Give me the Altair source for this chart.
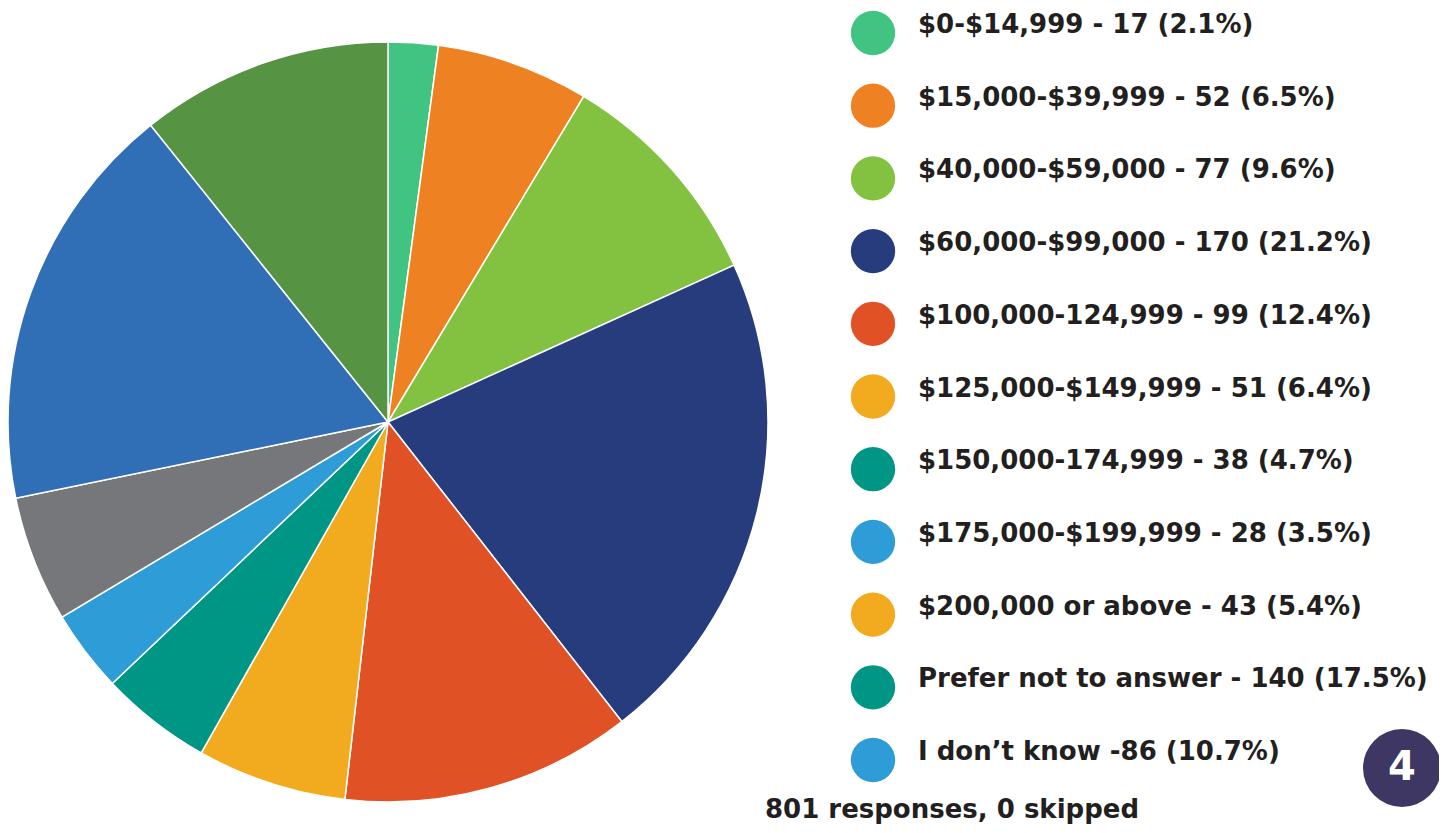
import math
import altair as alt
import pandas as pd

categories = [
    "$0-$14,999",
    "$15,000-$39,999",
    "$40,000-$59,000",
    "$60,000-$99,000",
    "$100,000-124,999",
    "$125,000-$149,999",
    "$150,000-174,999",
    "$175,000-$199,999",
    "$200,000 or above",
    "Prefer not to answer",
    "I don't know",
]
counts = [17, 52, 77, 170, 99, 51, 38, 28, 43, 140, 86]
legend_labels = [
    "$0-$14,999 - 17 (2.1%)",
    "$15,000-$39,999 - 52 (6.5%)",
    "$40,000-$59,000 - 77 (9.6%)",
    "$60,000-$99,000 - 170 (21.2%)",
    "$100,000-124,999 - 99 (12.4%)",
    "$125,000-$149,999 - 51 (6.4%)",
    "$150,000-174,999 - 38 (4.7%)",
    "$175,000-$199,999 - 28 (3.5%)",
    "$200,000 or above - 43 (5.4%)",
    "Prefer not to answer - 140 (17.5%)",
    "I don\u2019t know -86 (10.7%)",
]
pie_colors = ["#41c381", "#ee8122", "#83c241", "#273c7c", "#e05226", "#f2ab1e",
              "#009685", "#2e9cd6", "#76777b", "#306eb5", "#569343"]
legend_colors = ["#41c381", "#ee8122", "#83c241", "#273c7c", "#e05226", "#f2ab1e",
                 "#009685", "#2e9cd6", "#f2ab1e", "#009685", "#2e9cd6"]
footer_text = ["801 responses, 0 skipped"]
badge_text = ["4"]

df = pd.DataFrame({
    "category": categories,
    "count": counts,
    "label": legend_labels,
    "idx": list(range(len(categories))),
})

FONT = "DejaVu Sans"
TEXT_COLOR = "#231f20"

base = alt.Chart(df)

pie = base.mark_arc(radius=380, stroke="white", strokeWidth=1.5).encode(
    theta=alt.Theta("count:Q", stack=True),
    order=alt.Order("idx:Q"),
    color=alt.Color("category:N", scale=alt.Scale(domain=categories, range=pie_colors), legend=None),
    x=alt.value(380),
    y=alt.value(414),
)

yenc = alt.Y("category:N", sort=categories,
             scale=alt.Scale(type="point", domain=categories, range=[25, 752], padding=0),
             axis=None)

legend_dots = base.mark_circle(size=math.pi * 25 * 25, opacity=1).encode(
    x=alt.value(865),
    y=yenc,
    fill=alt.Fill("category:N", scale=alt.Scale(domain=categories, range=legend_colors), legend=None),
)

legend_text = base.mark_text(align="left", baseline="alphabetic", font=FONT, fontWeight="bold",
                             fontSize=26, color=TEXT_COLOR).encode(
    x=alt.value(910),
    y=yenc,
    text="label:N",
)

footer = alt.Chart(pd.DataFrame({"t": footer_text})).mark_text(
    align="left", baseline="alphabetic", font=FONT, fontWeight="bold", fontSize=26, color=TEXT_COLOR
).encode(x=alt.value(757), y=alt.value(810), text="t:N")

badge = alt.Chart(pd.DataFrame({"t": badge_text})).mark_circle(
    size=math.pi * 44 * 44, opacity=1, color="#3f3763"
).encode(x=alt.value(1394), y=alt.value(760))

badge_label = alt.Chart(pd.DataFrame({"t": badge_text})).mark_text(
    align="center", baseline="middle", font=FONT, fontWeight="bold", fontSize=40, color="white"
).encode(x=alt.value(1394), y=alt.value(760), text="t:N")

chart = alt.layer(pie, legend_dots, legend_text, footer, badge, badge_label).resolve_scale(
    color="independent", fill="independent"
).properties(
    width=1431, height=817, padding=0, autosize=alt.AutoSizeParams(type="none")
).configure_view(stroke=None)

chart.save("out.html", embed_options={"renderer": "svg", "actions": False})
